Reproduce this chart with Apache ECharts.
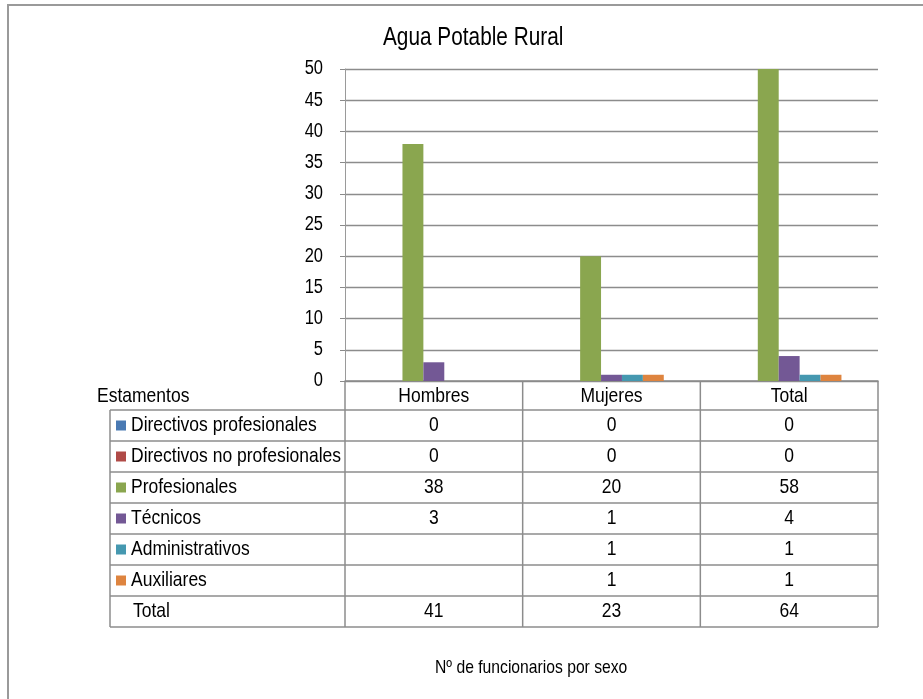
<!DOCTYPE html>
<html>
<head>
<meta charset="utf-8">
<script src="https://cdn.jsdelivr.net/npm/echarts@6/dist/echarts.min.js"></script>
<style>
  html, body { margin: 0; padding: 0; background: #fff; }
  #main { width: 923px; height: 699px; }
</style>
</head>
<body>
<div id="main"></div>
<script>
// data
var categories = ['Hombres', 'Mujeres', 'Total'];
var seriesNames = ['Directivos profesionales', 'Directivos no profesionales', 'Profesionales',
                   'Técnicos', 'Administrativos', 'Auxiliares', 'Total'];
var directivosProf = [0, 0, 0];
var directivosNoProf = [0, 0, 0];
var profesionales = [38, 20, 58];
var tecnicos = [3, 1, 4];
var administrativos = [null, 1, 1];
var auxiliares = [null, 1, 1];
var totales = [41, 23, 64];
var yTicks = [0, 5, 10, 15, 20, 25, 30, 35, 40, 45, 50];

var colors = ['#4a7ab3', '#b04a47', '#8aa64f', '#735895', '#4598b0', '#de843f', 'transparent'];
var allData = [directivosProf, directivosNoProf, profesionales, tecnicos, administrativos, auxiliares, totales];

var FONT = '"Liberation Sans", Arial, sans-serif';
var STRETCH = 1.2; // text in the picture is drawn a bit taller than normal
var gridLeft = 345, gridRight = 878, gridTop = 69, gridBottom = 381;

var chartDom = document.getElementById('main');
var myChart = echarts.init(chartDom);
var option;

option = {
    animation: false,
    grid: {
        left: gridLeft,
        right: 923 - gridRight,
        top: gridTop,
        bottom: 699 - gridBottom
    },
    xAxis: {
        type: 'category',
        data: categories,
        axisLine: { show: true, lineStyle: { color: '#8a8a8a', width: 1.5 } },
        axisTick: { show: false },
        axisLabel: { show: false }
    },
    yAxis: {
        type: 'value',
        min: yTicks[0],
        max: yTicks[yTicks.length - 1],
        interval: 5,
        axisLine: { show: true, lineStyle: { color: '#9a9a9a', width: 1 } },
        axisTick: { show: true, length: 5, lineStyle: { color: '#8a8a8a' } },
        axisLabel: { show: false },
        splitLine: { lineStyle: { color: '#8c8c8c', width: 1.3 } }
    },
    series: seriesNames.map(function (name, i) {
        return {
            name: name,
            type: 'bar',
            data: allData[i],
            barGap: '0%',
            barCategoryGap: '17.6%',
            clip: true,
            itemStyle: { color: colors[i] },
            silent: i === 6
        };
    })
};

myChart.setOption(option);

function txt(s, x, y, align, size) {
    return {
        type: 'text', x: x, y: y, scaleY: STRETCH,
        style: { text: s, fill: '#000', font: size + 'px ' + FONT, align: align, verticalAlign: 'middle' }
    };
}

// titles, tick labels and the data table under the plot
function buildTable() {
    var g = [];
    var centers = categories.map(function (c) {
        return myChart.convertToPixel({ xAxisIndex: 0 }, c);
    });
    var half = (centers[1] - centers[0]) / 2;
    var bounds = [centers[0] - half].concat(centers.map(function (c) { return c + half; }));
    var tableLeft = 110, headTop = gridBottom, headBottom = 410, rowH = 31;
    var tableBottom = headBottom + rowH * seriesNames.length;
    var lineStyle = { stroke: '#8c8c8c', lineWidth: 1.5 };

    g.push(txt('Agua Potable Rural', 383, 38, 'left', 20.8));
    g.push(txt('Nº de funcionarios por sexo', 435, 668, 'left', 15.7));

    yTicks.forEach(function (v) {
        g.push(txt(String(v), 323, myChart.convertToPixel({ yAxisIndex: 0 }, v), 'right', 16.5));
    });

    bounds.forEach(function (bx) {
        g.push({ type: 'line', shape: { x1: bx, y1: headTop, x2: bx, y2: tableBottom }, style: lineStyle });
    });
    g.push({ type: 'line', shape: { x1: tableLeft, y1: headBottom, x2: tableLeft, y2: tableBottom }, style: lineStyle });
    for (var r = 0; r <= seriesNames.length; r++) {
        var yy = headBottom + r * rowH;
        g.push({ type: 'line', shape: { x1: tableLeft, y1: yy, x2: bounds[bounds.length - 1], y2: yy }, style: lineStyle });
    }

    g.push(txt('Estamentos', 97, (headTop + headBottom) / 2 + 1, 'left', 17.5));
    categories.forEach(function (c, j) {
        g.push(txt(c, centers[j], (headTop + headBottom) / 2 + 1, 'center', 17.5));
    });

    seriesNames.forEach(function (name, i) {
        var cy = headBottom + i * rowH + rowH / 2;
        if (colors[i] !== 'transparent') {
            g.push({ type: 'rect', shape: { x: 116, y: cy - 5, width: 10, height: 10 }, style: { fill: colors[i] } });
        }
        g.push(txt(name, i === 6 ? 133 : 131, cy, 'left', 17.5));
        allData[i].forEach(function (v, j) {
            g.push(txt(v === null ? '' : String(v), centers[j], cy, 'center', 17.5));
        });
    });

    // outer frame
    g.push({ type: 'rect', shape: { x: 8, y: 5, width: 940, height: 720 }, style: { fill: null, stroke: '#9a9a9a', lineWidth: 2 } });

    myChart.setOption({ graphic: g });
}

buildTable();
</script>
</body>
</html>
